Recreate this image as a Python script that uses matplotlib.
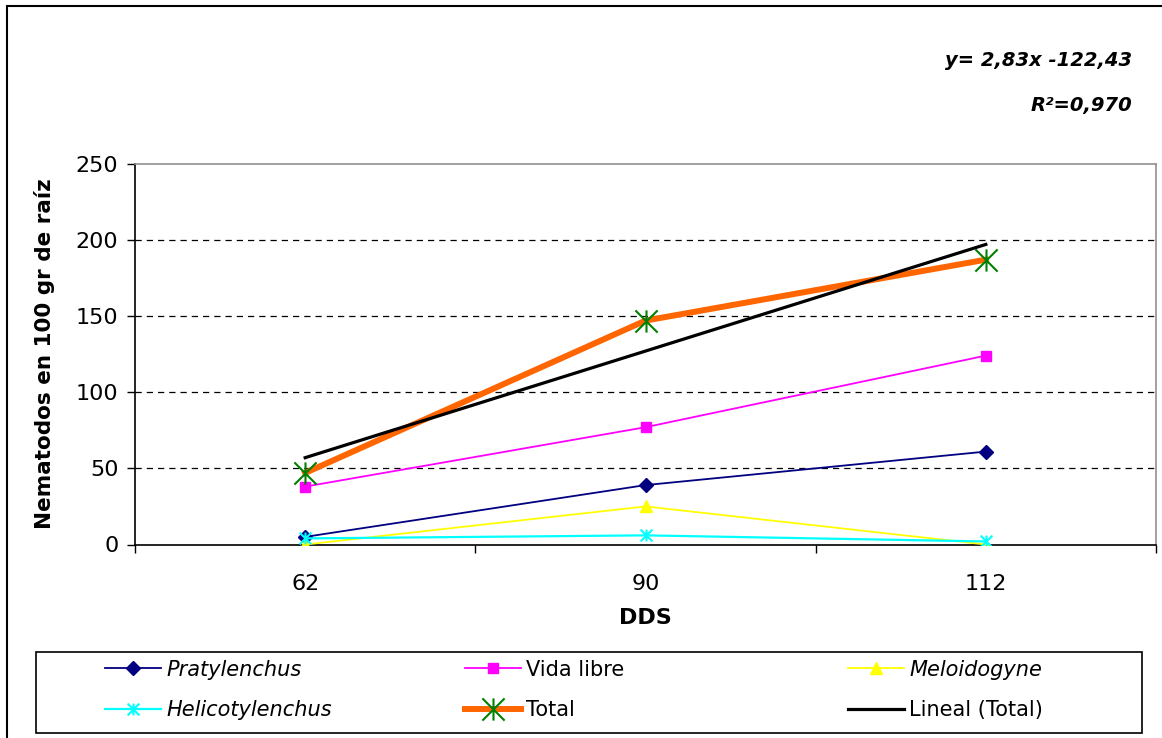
import numpy as np
import matplotlib
matplotlib.use("Agg")
import matplotlib.pyplot as plt
from matplotlib.path import Path
from matplotlib.patches import Rectangle

# ---- data ----
categories = ["62", "90", "112"]
pratylenchus = [5, 39, 61]
vida_libre = [38, 77, 124]
meloidogyne = [0, 25, 0]
helicotylenchus = [4, 6, 2]
total = [47, 147, 187]
y_ticks = [0, 50, 100, 150, 200, 250]
eq_text = "y= 2,83x -122,43"
r2_text = "R²=0,970"

plt.rcParams['font.family'] = ['DejaVu Sans']

W, H = 1162, 738
fig = plt.figure(figsize=(W / 100, H / 100), dpi=100)
ax = fig.add_axes([135 / W, 1 - 544.5 / H, (1156 - 135) / W, (544.5 - 163.7) / H])

x = np.arange(len(categories))

star = Path([(0, -1), (0, 1), (-1, -1), (1, 1), (-1, 1), (1, -1)],
            [Path.MOVETO, Path.LINETO, Path.MOVETO, Path.LINETO, Path.MOVETO, Path.LINETO])

l_prat, = ax.plot(x, pratylenchus, color="#000080", lw=1.3, marker="D", ms=7,
                  mfc="#000080", mec="#000080", label="Pratylenchus", zorder=4)
l_vida, = ax.plot(x, vida_libre, color="#FF00FF", lw=1.3, marker="s", ms=7.5,
                  mfc="#FF00FF", mec="#FF00FF", label="Vida libre", zorder=4)
l_melo, = ax.plot(x, meloidogyne, color="#FFFF00", lw=1.3, marker="^", ms=8.5,
                  mfc="#FFFF00", mec="#FFFF00", label="Meloidogyne", zorder=4)
l_heli, = ax.plot(x, helicotylenchus, color="#00FFFF", lw=1.6, marker=star, ms=8.5,
                  mfc="none", mec="#00FFFF", mew=1.5, label="Helicotylenchus", zorder=4)
l_tot, = ax.plot(x, total, color="#FF6600", lw=4.3, marker=star, ms=16,
                 mfc="none", mec="#008000", mew=1.5, label="Total", zorder=5)

coef = np.polyfit(x + 1, total, 1)
trend = np.polyval(coef, x + 1)
l_lin, = ax.plot(x, trend, color="black", lw=2.3, label="Lineal (Total)", zorder=6)

ax.set_xlim(-0.5, len(categories) - 0.5)
ax.set_ylim(0, 250)
ax.set_yticks(y_ticks)
ax.set_yticklabels([str(v) for v in y_ticks])
ax.set_xticks(x)
ax.set_xticklabels(categories)
ax.set_xticks(np.arange(-0.5, len(categories)), minor=True)
ax.tick_params(axis="x", which="major", length=0, pad=21, labelsize=16)
ax.tick_params(axis="x", which="minor", length=6, width=1, direction="out", color="black")
ax.tick_params(axis="y", which="major", length=6, width=1, direction="out", pad=6, labelsize=16)

for v in y_ticks[1:-1]:
    ax.axhline(v, color="black", lw=0.9, ls=(0, (5, 4)), zorder=1)

ax.spines["left"].set_color("black")
ax.spines["bottom"].set_color("black")
ax.spines["top"].set_color("#909090")
ax.spines["right"].set_color("#909090")
for s in ax.spines.values():
    s.set_linewidth(1.2)

ax.set_ylabel("Nematodos en 100 gr de raíz", fontsize=15.5, fontweight="bold", labelpad=15)
ax.set_xlabel("DDS", fontsize=16, fontweight="bold", labelpad=10)

fig.text(1132 / W, 1 - 61 / H, eq_text, ha="right", va="center", fontsize=14,
         fontweight="bold", fontstyle="italic")
fig.text(1132 / W, 1 - 105 / H, r2_text, ha="right", va="center", fontsize=14,
         fontweight="bold", fontstyle="italic")

# legend: three columns placed individually, plus a frame
columns = [([l_prat, l_heli], 105), ([l_vida, l_tot], 465), ([l_melo, l_lin], 848)]
for hs, xpix in columns:
    leg = fig.legend(handles=hs, labels=[h.get_label() for h in hs],
                     loc="center left", bbox_to_anchor=(xpix / W, 1 - 690 / H),
                     fontsize=15, frameon=False, handlelength=2.7, handletextpad=0.25,
                     borderaxespad=0, borderpad=0, labelspacing=1.0)
    for t in leg.get_texts():
        if t.get_text() in ("Pratylenchus", "Meloidogyne", "Helicotylenchus"):
            t.set_fontstyle("italic")

fig.patches.append(Rectangle((36 / W, 1 - 733 / H), (1142 - 36) / W, (733 - 652) / H,
                             transform=fig.transFigure, fill=False, edgecolor="black", lw=1.2))

fig.patches.append(Rectangle((7 / W, -0.05), 1.2, 1 - 6 / H + 0.05, transform=fig.transFigure,
                             fill=False, edgecolor="black", lw=1.5))

fig.savefig("out.png", dpi=100)
